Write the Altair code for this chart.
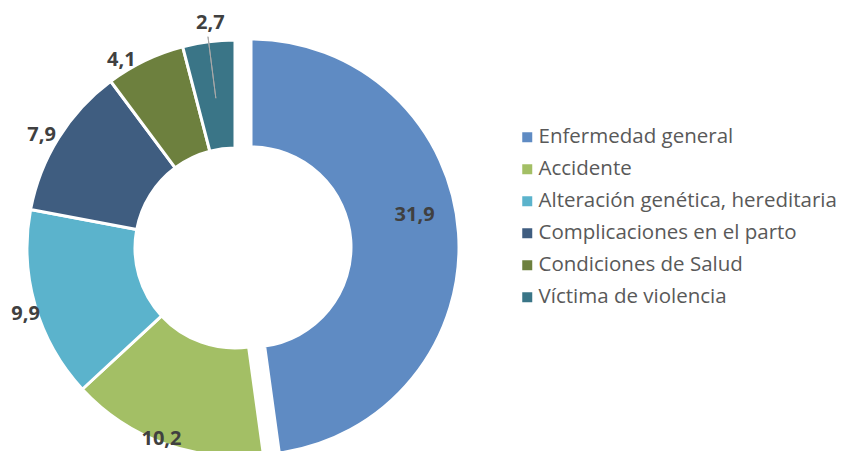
import altair as alt
import pandas as pd

categories = ["Enfermedad general", "Accidente", "Alteración genética, hereditaria",
              "Complicaciones en el parto", "Condiciones de Salud", "Víctima de violencia"]
values = [31.9, 10.2, 9.9, 7.9, 4.1, 2.7]
colors = ["#5F8BC3", "#A3BF65", "#5BB3CC", "#3F5D80", "#6D803E", "#3A7587"]

df = pd.DataFrame({"cat": categories, "v": values, "ord": list(range(len(values)))})
total = float(sum(values))

CX, CY = 227, 240
R_IN, R_OUT = 100, 208
EXPL = "Enfermedad general"
LEADER = "Víctima de violencia"
DX, DY = 16, -1

theta_scale = alt.Scale(domain=[0, total], range=[0, 6.283185307179586], zero=True)

color = alt.Color("cat:N", scale=alt.Scale(domain=categories, range=colors),
                  sort=categories,
                  legend=alt.Legend(title=None, orient="none", legendX=509, legendY=119,
                                    labelFont="Open Sans", labelFontSize=20.5,
                                    labelColor="#595959", symbolType="square",
                                    symbolSize=100, symbolStrokeWidth=0, rowPadding=11,
                                    labelOffset=1, labelLimit=400))

base = alt.Chart(df).transform_window(
    cum="sum(v)", sort=[alt.SortField("ord")], frame=[None, 0]
).transform_calculate(
    start="datum.cum - datum.v",
    mid="datum.cum - datum.v / 2",
    lab="replace(format(datum.v, '.1f'), '.', ',')",
).encode(x=alt.value(CX), y=alt.value(CY))

not_ex = alt.datum.cat != EXPL
is_ex = alt.datum.cat == EXPL

arc_enc = dict(theta=alt.Theta("start:Q", scale=theta_scale, stack=None),
               theta2=alt.Theta2("cum:Q"))

ring = base.transform_filter(not_ex).mark_arc(
    innerRadius=R_IN, outerRadius=R_OUT, stroke="white", strokeWidth=3
).encode(color=color, **arc_enc)

ring_ex = base.transform_filter(is_ex).mark_arc(
    innerRadius=R_IN, outerRadius=R_OUT, stroke="white", strokeWidth=3,
    xOffset=DX, yOffset=DY
).encode(color=color, **arc_enc)

leader = base.transform_filter(alt.datum.cat == LEADER).mark_arc(
    innerRadius=151, outerRadius=213, stroke="#A8A8A8", strokeWidth=1, fillOpacity=0
).encode(theta=alt.Theta("mid:Q", scale=theta_scale, stack=None),
         theta2=alt.Theta2("mid:Q"))

txt = dict(font="Open Sans", fontSize=20, fontWeight="bold", color="#404040")
mid_enc = dict(theta=alt.Theta("mid:Q", scale=theta_scale, stack=None), text="lab:N")

# label placement: (radius, xOffset, yOffset) per slice, mimicking the reference's label nudges
label_place = {
    "Enfermedad general": (168, DX - 4, DY - 21),
    "Accidente": (221, 1, -17),
    "Alteración genética, hereditaria": (221, 3, 5),
    "Complicaciones en el parto": (221, -6, 4),
    "Condiciones de Salud": (221, -18, 11),
    "Víctima de violencia": (226, 4, -1),
}

label_layers = []
for cat, (rad, ox, oy) in label_place.items():
    label_layers.append(
        base.transform_filter(alt.datum.cat == cat).mark_text(
            radius=rad, xOffset=ox, yOffset=oy, **txt).encode(**mid_enc)
    )

chart = alt.layer(ring, ring_ex, leader, *label_layers).properties(
    width=835, height=443, padding=0, autosize="none", background="white"
).configure_view(stroke=None)

chart.save("out.html", embed_options={"renderer": "svg", "actions": False})
